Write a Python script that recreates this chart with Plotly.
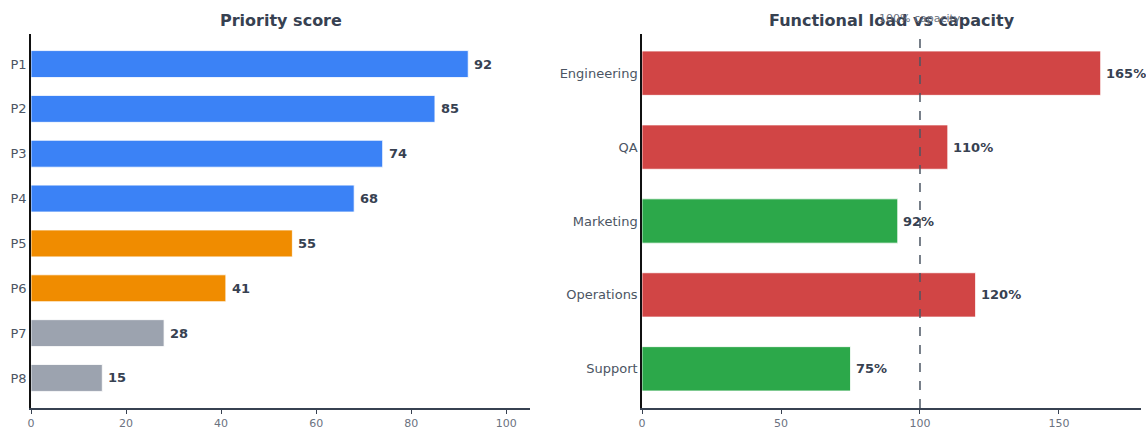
import plotly.graph_objects as go

# Priority scores
priorities = ["P1", "P2", "P3", "P4", "P5", "P6", "P7", "P8"]
scores = [92, 85, 74, 68, 55, 41, 28, 15]
score_colors = ["#3b82f6"] * 4 + ["#f08c00"] * 2 + ["#9ca3af"] * 2

# Functional load as percentage of capacity
functions = ["Engineering", "QA", "Marketing", "Operations", "Support"]
load_pct = [165, 110, 92, 120, 75]
capacity_line = 100

def load_color(v):
    return "#d14545" if v > capacity_line else "#2ca84a"

W, H = 1146, 431
TXT = "#374151"
FONT = "DejaVu Sans"

fig = go.Figure()

fig.add_trace(go.Bar(
    x=scores, y=priorities, orientation="h", width=0.6,
    marker=dict(color=score_colors, line=dict(color="white", width=0.8)),
    xaxis="x", yaxis="y", showlegend=False, hoverinfo="x+y",
))
fig.add_trace(go.Bar(
    x=load_pct, y=functions, orientation="h", width=0.6,
    marker=dict(color=[load_color(v) for v in load_pct], line=dict(color="white", width=0.8)),
    xaxis="x2", yaxis="y2", showlegend=False, hoverinfo="x+y",
))

annotations = []
for p, s in zip(priorities, scores):
    annotations.append(dict(x=s, y=p, xref="x", yref="y", text=f"<b>{s}</b>",
                            showarrow=False, xanchor="left", xshift=4,
                            font=dict(family=FONT, size=13, color=TXT)))
for f, v in zip(functions, load_pct):
    annotations.append(dict(x=v, y=f, xref="x2", yref="y2", text=f"<b>{v}%</b>",
                            showarrow=False, xanchor="left", xshift=3,
                            font=dict(family=FONT, size=13, color=TXT)))

dom_y = [(H - 408) / H, (H - 34) / H]
title_y = (H - 20) / H
annotations += [
    dict(x=(31 + 530) / 2 / W, y=title_y, xref="paper", yref="paper", showarrow=False,
         xanchor="center", yanchor="middle",
         text="<b>Priority score</b>", font=dict(family=FONT, size=16, color=TXT)),
    dict(x=(642 + 1141) / 2 / W, y=title_y, xref="paper", yref="paper", showarrow=False,
         xanchor="center", yanchor="middle",
         text="<b>Functional load vs capacity</b>", font=dict(family=FONT, size=16, color=TXT)),
    dict(x=capacity_line, y=(H - 18) / H, xref="x2", yref="paper", showarrow=False,
         xanchor="center", yanchor="middle",
         text="100% capacity", font=dict(family=FONT, size=11, color="#6b7280")),
]

fig.add_shape(type="line", xref="x2", yref="y2 domain", x0=capacity_line, x1=capacity_line,
              y0=0, y1=1, line=dict(color="#4b5563", width=1.5, dash="dash"))

xaxis_common = dict(showgrid=False, zeroline=False, showline=True, linecolor="#374151",
                    linewidth=1.5, ticks="outside", ticklen=4, tickcolor="#374151",
                    automargin=False,
                    tickfont=dict(family=FONT, size=11, color="#6b7280"))
yaxis_common = dict(showgrid=False, zeroline=False, showline=True, linecolor="#111111",
                    linewidth=1.5, ticks="", automargin=False,
                    tickfont=dict(family=FONT, size=13, color="#4b5563"),
                    domain=dom_y)

fig.update_layout(
    width=W, height=H, margin=dict(l=0, r=0, t=0, b=0),
    paper_bgcolor="white", plot_bgcolor="white",
    font=dict(family=FONT),
    bargap=0.4,
    xaxis=dict(domain=[31 / W, 530 / W], range=[0, 105], tickvals=[0, 20, 40, 60, 80, 100],
               anchor="y", **xaxis_common),
    yaxis=dict(categoryorder="array", categoryarray=priorities, autorange=False,
               range=[len(priorities) - 0.33, -0.67], anchor="x", **yaxis_common),
    xaxis2=dict(domain=[642 / W, 1141 / W], range=[0, 179.5], tickvals=[0, 50, 100, 150],
                anchor="y2", **xaxis_common),
    yaxis2=dict(categoryorder="array", categoryarray=functions, autorange=False,
                range=[len(functions) - 0.47, -0.53], anchor="x2", **yaxis_common),
    annotations=annotations,
)

fig.write_html("out.html")
